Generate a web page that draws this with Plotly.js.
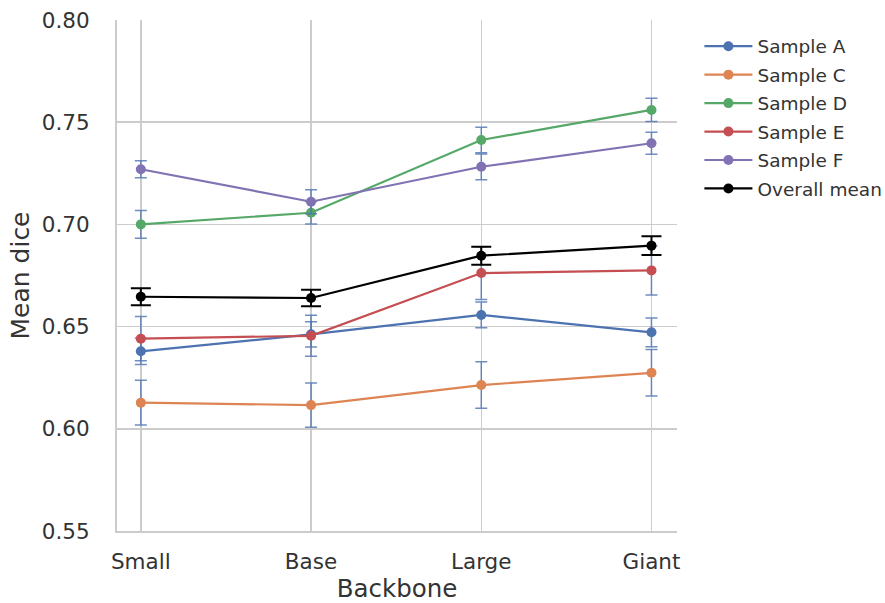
<!DOCTYPE html>
<html>
<head>
<meta charset="utf-8">
<script src="https://cdn.plot.ly/plotly-3.0.1.min.js"></script>
<style>html,body{margin:0;padding:0;background:#fff;}#chart{width:885px;height:603px;}</style>
</head>
<body>
<div id="chart"></div>
<script>
const categories = ["Small", "Base", "Large", "Giant"];
const seriesNames = ["Sample A", "Sample C", "Sample D", "Sample E", "Sample F", "Overall mean"];
const sampleA = [0.6379, 0.6462, 0.6557, 0.6472];
const sampleC = [0.6128, 0.6116, 0.6214, 0.6274];
const sampleD = [0.7000, 0.7057, 0.7413, 0.7560];
const sampleE = [0.6441, 0.6455, 0.6762, 0.6775];
const sampleF = [0.7270, 0.7111, 0.7282, 0.7397];
const overallMean = [0.6646, 0.6640, 0.6847, 0.6896];
const errA = [0.0064, 0.0062, 0.0063, 0.0070];
const errC = [0.0110, 0.0108, 0.0114, 0.0114];
const errD = [0.0068, 0.0055, 0.0062, 0.0057];
const errE = [0.0108, 0.0100, 0.0129, 0.0120];
const errF = [0.0042, 0.0059, 0.0063, 0.0054];
const errMean = [0.0042, 0.0040, 0.0044, 0.0046];
const yTicks = [0.55, 0.60, 0.65, 0.70, 0.75, 0.80];

const colors = ["#4c72b0", "#dd8452", "#55a868", "#c44e52", "#8172b3", "#000000"];
const values = [sampleA, sampleC, sampleD, sampleE, sampleF, overallMean];
const errs = [errA, errC, errD, errE, errF, errMean];

const traces = values.map((v, i) => {
  const isMean = i === 5;
  return {
    type: "scatter",
    mode: "lines+markers",
    name: seriesNames[i],
    legendgroup: "g" + i,
    x: categories,
    y: v,
    line: {color: colors[i], width: 2.2},
    marker: {color: colors[i], size: 10},
    error_y: {
      type: "data",
      array: errs[i],
      visible: true,
      color: isMean ? "#000000" : "rgba(76,114,176,0.8)",
      thickness: isMean ? 2 : 1.5,
      width: isMean ? 10 : 6
    }
  };
});

const layout = {
  width: 885,
  height: 603,
  paper_bgcolor: "#ffffff",
  plot_bgcolor: "#ffffff",
  margin: {l: 117, r: 208, t: 20, b: 72, autoexpand: false},
  font: {family: "DejaVu Sans, sans-serif", color: "#333333", size: 18},
  showlegend: true,
  legend: {
    x: 1.040, y: 0.985, xanchor: "left", yanchor: "top",
    font: {size: 18.5, color: "#333333"},
    traceorder: "grouped",
    tracegroupgap: 1.4,
    itemwidth: 48,
    bgcolor: "rgba(0,0,0,0)"
  },
  xaxis: {
    type: "category",
    range: [-0.14, 3.15],
    showgrid: true,
    gridcolor: "#cccccc",
    gridwidth: 1.5,
    showline: true,
    linecolor: "#cccccc",
    linewidth: 2,
    ticks: "",
    ticklabelstandoff: 10,
    tickfont: {size: 21.5, color: "#333333"},
    title: {text: "Backbone", font: {size: 24.5, color: "#333333"}, standoff: 6},
    zeroline: false
  },
  yaxis: {
    range: [0.55, 0.80],
    tickvals: yTicks,
    ticktext: yTicks.map(t => t.toFixed(2)),
    showgrid: true,
    gridcolor: "#cccccc",
    gridwidth: 1.5,
    showline: true,
    linecolor: "#cccccc",
    linewidth: 2,
    ticks: "",
    ticklabelstandoff: 21,
    tickfont: {size: 21.5, color: "#333333"},
    title: {text: "Mean dice", font: {size: 25, color: "#333333"}, standoff: 5},
    zeroline: false
  }
};

Plotly.newPlot("chart", traces, layout, {displayModeBar: false, staticPlot: true});
</script>
</body>
</html>
